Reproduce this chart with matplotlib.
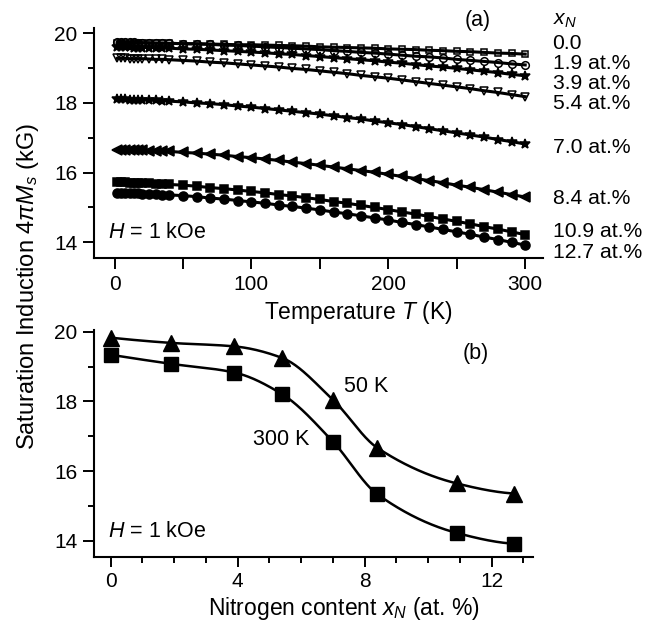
import numpy as np
import matplotlib
matplotlib.use("Agg")
import matplotlib.pyplot as plt
from matplotlib.ticker import MultipleLocator

plt.rcParams['font.family'] = ['Liberation Sans', 'DejaVu Sans']
plt.rcParams['mathtext.fontset'] = 'custom'
plt.rcParams['mathtext.rm'] = 'Liberation Sans'
plt.rcParams['mathtext.it'] = 'Liberation Sans:italic'
plt.rcParams['mathtext.bf'] = 'Liberation Sans:bold'

# ---------------- data: panel (a) ----------------
temps = [2, 5, 8, 11, 14, 17, 20, 25, 30, 35, 40, 50, 60, 70, 80, 90, 100, 110, 120,
         130, 140, 150, 160, 170, 180, 190, 200, 210, 220, 230, 240, 250, 260, 270,
         280, 290, 300]
ms_x00 = [19.72, 19.72, 19.72, 19.72, 19.72, 19.72, 19.72, 19.71, 19.71, 19.71, 19.71,
          19.70, 19.70, 19.69, 19.68, 19.67, 19.67, 19.66, 19.65, 19.64, 19.63, 19.61,
          19.60, 19.59, 19.58, 19.57, 19.55, 19.54, 19.53, 19.51, 19.50, 19.48, 19.47,
          19.45, 19.43, 19.42, 19.40]
ms_x19 = [19.74, 19.74, 19.74, 19.74, 19.74, 19.73, 19.73, 19.73, 19.72, 19.72, 19.71,
          19.70, 19.69, 19.68, 19.66, 19.65, 19.63, 19.61, 19.59, 19.57, 19.55, 19.53,
          19.50, 19.48, 19.45, 19.43, 19.40, 19.37, 19.34, 19.32, 19.29, 19.25, 19.22,
          19.19, 19.16, 19.12, 19.09]
ms_x39 = [19.60, 19.60, 19.60, 19.60, 19.59, 19.59, 19.59, 19.59, 19.58, 19.57, 19.57,
          19.55, 19.54, 19.52, 19.50, 19.48, 19.46, 19.44, 19.41, 19.39, 19.36, 19.33,
          19.30, 19.27, 19.24, 19.21, 19.17, 19.14, 19.10, 19.06, 19.03, 18.99, 18.95,
          18.91, 18.87, 18.82, 18.78]
ms_x54 = [19.28, 19.28, 19.28, 19.27, 19.27, 19.27, 19.27, 19.26, 19.25, 19.25, 19.24,
          19.22, 19.20, 19.17, 19.15, 19.12, 19.09, 19.06, 19.03, 18.99, 18.96, 18.92,
          18.88, 18.84, 18.79, 18.75, 18.71, 18.66, 18.61, 18.56, 18.51, 18.46, 18.41,
          18.35, 18.30, 18.24, 18.18]
ms_x70 = [18.10, 18.10, 18.10, 18.09, 18.09, 18.09, 18.08, 18.08, 18.07, 18.06, 18.05,
          18.03, 18.00, 17.98, 17.95, 17.91, 17.88, 17.84, 17.80, 17.76, 17.72, 17.68,
          17.63, 17.58, 17.54, 17.48, 17.43, 17.38, 17.32, 17.26, 17.20, 17.14, 17.08,
          17.02, 16.95, 16.89, 16.82]
ms_x84 = [16.66, 16.66, 16.66, 16.65, 16.65, 16.65, 16.64, 16.63, 16.63, 16.62, 16.61,
          16.58, 16.56, 16.53, 16.50, 16.46, 16.43, 16.39, 16.35, 16.30, 16.26, 16.21,
          16.16, 16.11, 16.06, 16.01, 15.95, 15.89, 15.83, 15.77, 15.71, 15.64, 15.58,
          15.51, 15.44, 15.37, 15.30]
ms_x109 = [15.72, 15.72, 15.72, 15.71, 15.71, 15.71, 15.70, 15.69, 15.68, 15.67, 15.66,
           15.64, 15.61, 15.57, 15.54, 15.50, 15.46, 15.42, 15.37, 15.33, 15.28, 15.23,
           15.17, 15.12, 15.06, 15.00, 14.94, 14.87, 14.81, 14.74, 14.67, 14.60, 14.53,
           14.45, 14.38, 14.30, 14.22]
ms_x127 = [15.42, 15.42, 15.42, 15.41, 15.41, 15.41, 15.40, 15.39, 15.38, 15.37, 15.36,
           15.34, 15.31, 15.27, 15.24, 15.20, 15.16, 15.12, 15.07, 15.03, 14.98, 14.93,
           14.87, 14.82, 14.76, 14.70, 14.64, 14.57, 14.51, 14.44, 14.37, 14.30, 14.23,
           14.15, 14.08, 14.00, 13.92]
series_labels = ['0.0', '1.9 at.%', '3.9 at.%', '5.4 at.%', '7.0 at.%', '8.4 at.%',
                 '10.9 at.%', '12.7 at.%']
label_y = [19.70, 19.13, 18.56, 17.97, 16.71, 15.26, 14.31, 13.72]

# ---------------- data: panel (b) ----------------
x_n = [0.0, 1.9, 3.9, 5.4, 7.0, 8.4, 10.9, 12.7]
ms_50K = [19.83, 19.68, 19.58, 19.25, 18.05, 16.67, 15.65, 15.36]
ms_300K = [19.34, 19.08, 18.83, 18.21, 16.85, 15.34, 14.23, 13.92]


def pchip(x, y, xs):
    x = np.asarray(x, float)
    y = np.asarray(y, float)
    xs = np.asarray(xs, float)
    h = np.diff(x)
    d = np.diff(y) / h
    m = np.zeros_like(y)
    for k in range(1, len(x) - 1):
        if d[k - 1] * d[k] > 0:
            w1 = 2 * h[k] + h[k - 1]
            w2 = h[k] + 2 * h[k - 1]
            m[k] = (w1 + w2) / (w1 / d[k - 1] + w2 / d[k])

    def end(h0, h1, d0, d1):
        mm = ((2 * h0 + h1) * d0 - h0 * d1) / (h0 + h1)
        if np.sign(mm) != np.sign(d0):
            mm = 0.0
        elif np.sign(d0) != np.sign(d1) and abs(mm) > abs(3 * d0):
            mm = 3 * d0
        return mm
    m[0] = end(h[0], h[1], d[0], d[1])
    m[-1] = end(h[-1], h[-2], d[-1], d[-2])
    idx = np.clip(np.searchsorted(x, xs) - 1, 0, len(x) - 2)
    t = (xs - x[idx]) / h[idx]
    h00 = 2 * t**3 - 3 * t**2 + 1
    h10 = t**3 - 2 * t**2 + t
    h01 = -2 * t**3 + 3 * t**2
    h11 = t**3 - t**2
    return h00 * y[idx] + h10 * h[idx] * m[idx] + h01 * y[idx + 1] + h11 * h[idx] * m[idx + 1]


FS = 15
LFS = 16.5
TFS = 15.2
W, H = 662, 626
fig = plt.figure(figsize=(W / 100, H / 100), dpi=100)


def px_axes(x0, y0, x1, y1):
    return fig.add_axes([x0 / W, 1 - y1 / H, (x1 - x0) / W, (y1 - y0) / H])


def style(ax):
    for s in ['top', 'right']:
        ax.spines[s].set_visible(False)
    for s in ['left', 'bottom']:
        ax.spines[s].set_linewidth(1.5)
    ax.tick_params(which='both', direction='out', width=1.4, labelsize=FS, pad=4)
    ax.tick_params(which='major', length=8)
    ax.tick_params(which='minor', length=4)


# ---------------- panel (a) ----------------
A = (94, 28, 543, 258)
axa = px_axes(*A)
style(axa)
series = [ms_x00, ms_x19, ms_x39, ms_x54, ms_x70, ms_x84, ms_x109, ms_x127]
markers = ['s', 'o', '*', 'v', '*', '<', 's', 'o']
fills = ['none', 'none', 'k', 'none', 'k', 'k', 'k', 'k']
msizes = [5, 5.5, 7.5, 6, 7.5, 7, 6, 6.5]
for vals, mk, fc, msz in zip(series, markers, fills, msizes):
    axa.plot(temps, vals, color='k', lw=2.2, marker=mk, ms=msz, mfc=fc, mec='k',
             mew=1.1)
axa.set_xlim(-15, 313)
axa.set_ylim(13.55, 20.15)
axa.xaxis.set_major_locator(MultipleLocator(100))
axa.xaxis.set_minor_locator(MultipleLocator(50))
axa.yaxis.set_major_locator(MultipleLocator(2))
axa.yaxis.set_minor_locator(MultipleLocator(1))
axa.tick_params(axis='x', which='minor', length=8)
axa.set_xlabel(r'Temperature $T$ (K)', fontsize=LFS)
axa.xaxis.set_label_coords((358 - A[0]) / (A[2] - A[0]), -(312 - A[3]) / (A[3] - A[1]))
axa.xaxis.label.set_va('center')
for lab, yv in zip(series_labels, label_y):
    axa.text(320, yv, lab, fontsize=TFS, ha='left', va='center', clip_on=False)
axa.text(320, 20.37, r'$x_N$', fontsize=TFS, ha='left', va='center', clip_on=False)
axa.text(265, 20.37, '(a)', fontsize=15.5, ha='center', va='center', clip_on=False)
axa.text(-4.6, 14.28, r'$H$ = 1 kOe', fontsize=15.5, ha='left', va='center')

# ---------------- panel (b) ----------------
B = (94, 330, 533, 557)
axb = px_axes(*B)
style(axb)
xs = np.linspace(min(x_n), max(x_n), 300)
axb.plot(xs, pchip(x_n, ms_50K, xs), color='k', lw=1.8)
axb.plot(xs, pchip(x_n, ms_300K, xs), color='k', lw=1.8)
axb.plot(x_n, ms_50K, ls='none', marker='^', ms=12, color='k')
axb.plot(x_n, ms_300K, ls='none', marker='s', ms=10, color='k')
axb.set_xlim(-0.52, 13.3)
axb.set_ylim(13.54, 20.05)
axb.xaxis.set_major_locator(MultipleLocator(4))
axb.xaxis.set_minor_locator(MultipleLocator(1))
axb.yaxis.set_major_locator(MultipleLocator(2))
axb.yaxis.set_minor_locator(MultipleLocator(1))
axb.tick_params(axis='x', which='major', length=7)
axb.set_xlabel(r'Nitrogen content $x_N$ (at. %)', fontsize=LFS)
axb.xaxis.set_label_coords((344 - B[0]) / (B[2] - B[0]), -(608 - B[3]) / (B[3] - B[1]))
axb.xaxis.label.set_va('center')
axb.text(11.51, 19.39, '(b)', fontsize=15.5, ha='center', va='center')
axb.text(7.34, 18.43, '50 K', fontsize=15.5, ha='left', va='center')
axb.text(4.48, 16.90, '300 K', fontsize=15.5, ha='left', va='center')
axb.text(-0.08, 14.26, r'$H$ = 1 kOe', fontsize=15.5, ha='left', va='center')

fig.text(28 / W, 1 - 286 / H, r'Saturation Induction 4$\pi M_s$ (kG)', fontsize=17,
         rotation=90, ha='center', va='center')

fig.savefig('out.png', dpi=100)
